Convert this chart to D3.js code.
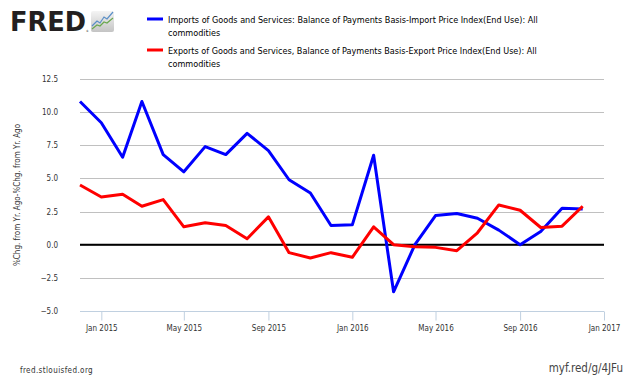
<!DOCTYPE html>
<html>
<head>
<meta charset="utf-8">
<script src="https://cdn.jsdelivr.net/npm/d3@7"></script>
<style>
  body { margin: 0; background: #fff; }
  text { font-family: "DejaVu Sans Condensed", "DejaVu Sans", sans-serif; }
</style>
</head>
<body>
<div id="chart"></div>
<script>
// monthly, Dec 2014 .. Dec 2016
const months = [
  "2014-12", "2015-01", "2015-02", "2015-03", "2015-04", "2015-05", "2015-06",
  "2015-07", "2015-08", "2015-09", "2015-10", "2015-11", "2015-12",
  "2016-01", "2016-02", "2016-03", "2016-04", "2016-05", "2016-06",
  "2016-07", "2016-08", "2016-09", "2016-10", "2016-11", "2016-12"
];
const imports = [
  10.8, 9.2, 6.6, 10.8, 6.8, 5.5, 7.4, 6.8, 8.4, 7.1, 4.9, 3.9, 1.45,
  1.5, 6.75, -3.55, 0.0, 2.2, 2.35, 2.0, 1.1, 0.0, 1.0, 2.75, 2.7
];
const exports = [
  4.5, 3.6, 3.8, 2.9, 3.4, 1.35, 1.65, 1.45, 0.45, 2.1, -0.6, -1.0, -0.6,
  -0.95, 1.35, 0.0, -0.15, -0.2, -0.45, 0.9, 3.0, 2.6, 1.3, 1.4, 2.9
];
const yTicks = [-5, -2.5, 0, 2.5, 5, 7.5, 10, 12.5];
const xTicks = ["2015-01", "2015-05", "2015-09", "2016-01", "2016-05", "2016-09", "2017-01"];
const seriesNames = [
  ["Imports of Goods and Services: Balance of Payments Basis-Import Price Index(End Use): All", "commodities"],
  ["Exports of Goods and Services, Balance of Payments Basis-Export Price Index(End Use): All", "commodities"]
];
const colors = ["#0000ff", "#ff0000"];

const width = 630;
const height = 378;
const marginTop = 79;
const marginRight = 26;
const marginBottom = 67;
const marginLeft = 80;

const parse = d3.timeParse("%Y-%m");
const dates = months.map(parse);

const x = d3.scaleTime()
  .domain([parse("2014-12"), parse("2017-01")])
  .range([marginLeft, width - marginRight]);

const y = d3.scaleLinear()
  .domain([-5, 12.5])
  .range([height - marginBottom, marginTop]);

const svg = d3.select("#chart")
  .append("svg")
  .attr("width", width)
  .attr("height", height)
  .attr("viewBox", [0, 0, width, height]);

// grid
svg.append("g")
  .selectAll("line")
  .data(yTicks.filter(d => d > -5))
  .join("line")
  .attr("x1", marginLeft)
  .attr("x2", width - marginRight)
  .attr("y1", d => Math.round(y(d)) + 0.5)
  .attr("y2", d => Math.round(y(d)) + 0.5)
  .attr("stroke", "#c0c0c0")
  .attr("stroke-width", 1);

// y labels
svg.append("g")
  .selectAll("text")
  .data(yTicks)
  .join("text")
  .attr("x", 58)
  .attr("y", d => y(d) + 3)
  .attr("text-anchor", "end")
  .attr("font-size", 8)
  .attr("fill", "#333")
  .text(d => d3.format(".1f")(d));

// x axis
const xAxis = svg.append("g")
  .attr("transform", `translate(0,${Math.round(y(-5)) + 0.5})`)
  .call(d3.axisBottom(x)
    .tickValues(xTicks.map(parse))
    .tickSize(9)
    .tickFormat(d3.timeFormat("%b %Y")));
xAxis.select(".domain").attr("stroke", "#c0d0e0").attr("d", `M${marginLeft},0H${width - marginRight}`);
xAxis.selectAll(".tick line").attr("stroke", "#c0d0e0");
xAxis.selectAll(".tick text")
  .attr("font-size", 8)
  .attr("font-family", "DejaVu Sans Condensed, DejaVu Sans, sans-serif")
  .attr("fill", "#333")
  .attr("dy", "0.9em");

// zero line
svg.append("line")
  .attr("x1", marginLeft)
  .attr("x2", width - marginRight)
  .attr("y1", y(0))
  .attr("y2", y(0))
  .attr("stroke", "#000")
  .attr("stroke-width", 2);

// series
const line = d3.line()
  .x((d, i) => x(dates[i]))
  .y(d => y(d));

[imports, exports].forEach((s, i) => {
  svg.append("path")
    .datum(s)
    .attr("fill", "none")
    .attr("stroke", colors[i])
    .attr("stroke-width", 3)
    .attr("stroke-linejoin", "round")
    .attr("d", line);
});

// y axis title
svg.append("text")
  .attr("transform", `translate(20,${(marginTop + height - marginBottom) / 2}) rotate(-90)`)
  .attr("text-anchor", "middle")
  .attr("font-size", 8)
  .attr("fill", "#333")
  .text("%Chg. from Yr. Ago-%Chg. from Yr. Ago");

// legend
const legend = svg.append("g")
  .selectAll("g")
  .data(seriesNames)
  .join("g")
  .attr("transform", (d, i) => `translate(147,${19 + i * 31})`);

legend.append("line")
  .attr("x1", 0)
  .attr("x2", 16)
  .attr("stroke", (d, i) => colors[i])
  .attr("stroke-width", 3);

legend.append("text")
  .attr("x", 21)
  .attr("y", 4)
  .attr("font-size", 9)
  .attr("fill", "#000")
  .selectAll("tspan")
  .data(d => d)
  .join("tspan")
  .attr("x", 21)
  .attr("dy", (d, i) => i ? 13 : 0)
  .text(d => d);

// logo
const logo = svg.append("g");
logo.append("text")
  .attr("x", 10)
  .attr("y", 31)
  .attr("font-family", "DejaVu Sans, sans-serif")
  .attr("font-weight", "bold")
  .attr("font-size", 26)
  .attr("fill", "#231f20")
  .attr("textLength", 76)
  .attr("lengthAdjust", "spacingAndGlyphs")
  .text("FRED");
logo.append("text")
  .attr("x", 86)
  .attr("y", 32)
  .attr("font-size", 3)
  .attr("fill", "#231f20")
  .text("®");
const grad = svg.append("defs").append("linearGradient")
  .attr("id", "lg").attr("x1", 0).attr("y1", 0).attr("x2", 0).attr("y2", 1);
grad.append("stop").attr("offset", 0).attr("stop-color", "#f4f4f4");
grad.append("stop").attr("offset", 1).attr("stop-color", "#c4c4c4");
logo.append("rect")
  .attr("x", 91).attr("y", 11).attr("width", 23).attr("height", 21)
  .attr("rx", 2).attr("fill", "url(#lg)");
logo.append("path")
  .attr("d", "M92,26 L97,21 L100,23 L104,17 L107,19 L113,12")
  .attr("fill", "none").attr("stroke", "#5b8fc7").attr("stroke-width", 1.2);
logo.append("path")
  .attr("d", "M92,29 L97,25 L100,26 L104,22 L107,23 L113,18")
  .attr("fill", "none").attr("stroke", "#6aa84f").attr("stroke-width", 1.2);

// footer
svg.append("text")
  .attr("x", 20)
  .attr("y", 373)
  .attr("font-size", 8)
  .attr("letter-spacing", 0.4)
  .attr("fill", "#333")
  .text("fred.stlouisfed.org");

svg.append("text")
  .attr("x", 623)
  .attr("y", 372)
  .attr("text-anchor", "end")
  .attr("font-family", "DejaVu Sans, sans-serif")
  .attr("font-size", 11.5)
  .attr("fill", "#444")
  .text("myf.red/g/4JFu");
</script>
</body>
</html>
